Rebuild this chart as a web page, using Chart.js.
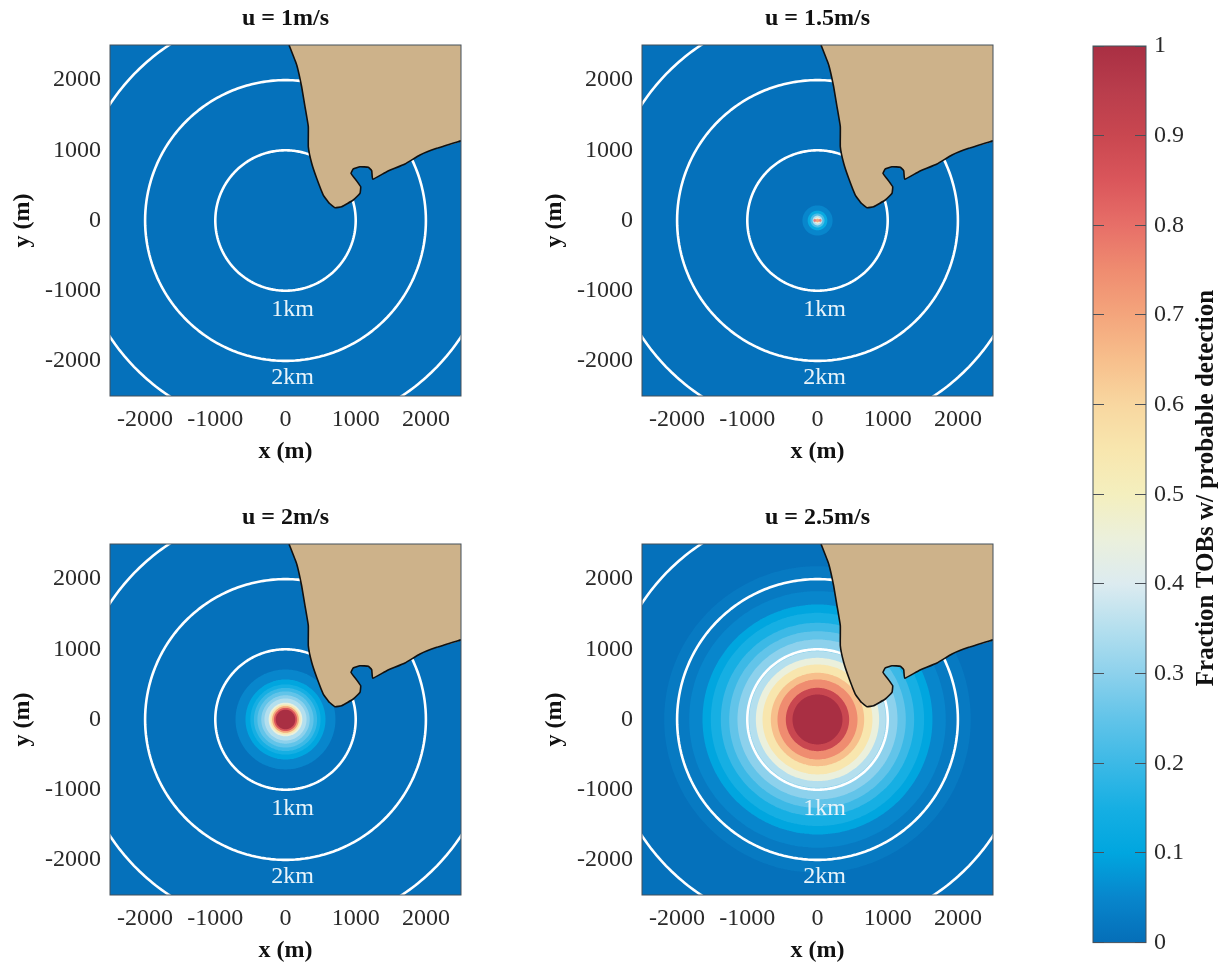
<!DOCTYPE html>
<html>
<head>
<meta charset="utf-8">
<style>
  html, body { margin: 0; padding: 0; background: #fff; }
  body { width: 1229px; height: 965px; position: relative; overflow: hidden; }
  .box { position: absolute; }
</style>
<script src="https://cdn.jsdelivr.net/npm/chart.js@4"></script>
</head>
<body>
<div class="box" style="left:0;top:0;width:480px;height:466px"><canvas id="p1"></canvas></div>
<div class="box" style="left:532px;top:0;width:480px;height:466px"><canvas id="p2"></canvas></div>
<div class="box" style="left:0;top:499px;width:480px;height:466px"><canvas id="p3"></canvas></div>
<div class="box" style="left:532px;top:499px;width:480px;height:466px"><canvas id="p4"></canvas></div>
<div class="box" style="left:1085px;top:0;width:144px;height:965px"><canvas id="bar"></canvas></div>
<script>
const TITLES = ['u = 1m/s', 'u = 1.5m/s', 'u = 2m/s', 'u = 2.5m/s'];
const AXIS_TICKS = [-2000, -1000, 0, 1000, 2000];
const RING_RADII = [1000, 2000, 3000];
const RING_LABELS = ['1km', '2km'];
const RING_LABEL_X = [100, 100];
const RING_LABEL_Y = [-1270, -2240];
const SEA_X = [-2500, 2500, 2500, -2500, -2500];
const SEA_Y = [-2500, -2500, 2500, 2500, -2500];

// coastline, metres
const COAST_X = [50, 160, 230, 278, 325, 325, 373, 444, 538, 624, 705, 800, 966, 1061, 1071, 1004, 933, 966, 1061, 1180, 1228, 1242, 1442, 1702, 1916, 2154, 2500];
const COAST_Y = [2500, 2215, 1905, 1620, 1336, 1051, 815, 601, 363, 245, 182, 197, 292, 387, 481, 577, 672, 734, 766, 758, 709, 587, 695, 805, 933, 1028, 1135];
const LAND_CORNER_X = [2500, 50];
const LAND_CORNER_Y = [2500, 2500];

// contour bands, inner to outer: radius in metres and level on the colour bar
const BAND_RADII = [
  [],
  [25, 45, 70, 100, 140, 215],
  [140, 165, 190, 215, 240, 300, 345, 400, 450, 500, 570, 712],
  [356, 451, 570, 665, 783, 878, 973, 1140, 1258, 1377, 1519, 1638, 1828, 2184]
];
const BAND_LEVELS = [
  [],
  [0.7, 0.45, 0.35, 0.22, 0.12, 0.05],
  [1, 0.85, 0.7, 0.55, 0.45, 0.35, 0.3, 0.25, 0.2, 0.15, 0.1, 0.05],
  [1, 0.9, 0.75, 0.65, 0.55, 0.45, 0.35, 0.3, 0.25, 0.2, 0.15, 0.1, 0.05, 0.025]
];
const P2_DOTS_X = [-38, 38];
const P2_DOTS_Y = [0, 0];

const BAR_TICKS = [0, 0.1, 0.2, 0.3, 0.4, 0.5, 0.6, 0.7, 0.8, 0.9, 1];
const BAR_VALUE = [1];
const BAR_TITLE = 'Fraction TOBs w/ probable detection';

// colour map, one entry every 0.05
const COLOR_STOPS = [
  [5, 110, 184], [8, 134, 204], [0, 166, 223], [22, 175, 227], [60, 185, 230], [98, 196, 233], [141, 209, 236],
  [180, 223, 238], [220, 235, 240], [235, 240, 220], [244, 239, 190], [248, 230, 174], [248, 215, 160],
  [247, 191, 140], [244, 165, 124], [239, 140, 112], [231, 111, 104], [218, 86, 91], [201, 71, 80], [185, 61, 76], [169, 47, 67]
];

const SEA = '#0571bb';
const LAND = '#cdb28a';
const SERIF = '"Liberation Serif", serif';

const colorAt = (v) => {
  const p = Math.min(v, 1) / 0.05;
  const i = Math.min(Math.floor(p), COLOR_STOPS.length - 2);
  const t = p - i;
  const c = COLOR_STOPS[i].map((a, k) => Math.round(a + (COLOR_STOPS[i + 1][k] - a) * t));
  return `rgb(${c[0]},${c[1]},${c[2]})`;
};

const barGradient = (context) => {
  const {ctx, chartArea} = context.chart;
  if (!chartArea) {
    return colorAt(0);
  }
  const g = ctx.createLinearGradient(0, chartArea.bottom, 0, chartArea.top);
  COLOR_STOPS.forEach((c, i) => {
    g.addColorStop(i / (COLOR_STOPS.length - 1), `rgb(${c[0]},${c[1]},${c[2]})`);
  });
  return g;
};

const circle = (r) => {
  const pts = [];
  for (let a = 0; a <= 360; a += 2) {
    pts.push({x: r * Math.cos(a * Math.PI / 180), y: r * Math.sin(a * Math.PI / 180)});
  }
  return pts;
};

const zip = (xs, ys) => xs.map((x, i) => ({x, y: ys[i]}));

const framePlugin = {
  id: 'frame',
  afterDatasetsDraw: (chart) => {
    const {ctx, chartArea: a} = chart;
    ctx.save();
    ctx.strokeStyle = '#44505a';
    ctx.lineWidth = 1;
    ctx.strokeRect(a.left, a.top, a.right - a.left, a.bottom - a.top);
    ctx.restore();
  }
};

const ringLabelPlugin = {
  id: 'ringLabels',
  afterDatasetsDraw: (chart) => {
    const {ctx, scales} = chart;
    ctx.save();
    ctx.fillStyle = '#e8f4fa';
    ctx.font = '24px ' + SERIF;
    ctx.textAlign = 'center';
    ctx.textBaseline = 'middle';
    RING_LABELS.forEach((t, i) => {
      ctx.fillText(t, scales.x.getPixelForValue(RING_LABEL_X[i]), scales.y.getPixelForValue(RING_LABEL_Y[i]));
    });
    ctx.restore();
  }
};

const barTitlePlugin = {
  id: 'barTitle',
  afterDraw: (chart) => {
    const {ctx} = chart;
    ctx.save();
    ctx.translate(122, 488);
    ctx.rotate(-Math.PI / 2);
    ctx.fillStyle = '#111';
    ctx.font = 'bold 25px ' + SERIF;
    ctx.textAlign = 'center';
    ctx.textBaseline = 'middle';
    ctx.fillText(BAR_TITLE, 0, 0);
    ctx.restore();
  }
};

const renderPanel = (id, index) => {
  const datasets = [];
  // tension must stay above 0, otherwise the fast line path flattens the circles
  const shape = (data, color, tension) => ({data, showLine: true, fill: 'shape', backgroundColor: color, borderWidth: 0, pointRadius: 0, tension, clip: 0});

  datasets.push({data: zip(COAST_X, COAST_Y), showLine: true, fill: false, borderColor: '#111', borderWidth: 1.6, pointRadius: 0, tension: 0.1, clip: 0});
  datasets.push(shape(zip(COAST_X.concat(LAND_CORNER_X), COAST_Y.concat(LAND_CORNER_Y)), LAND, 0.1));
  RING_RADII.forEach((r) => {
    datasets.push({data: circle(r), showLine: true, fill: false, borderColor: '#fff', borderWidth: 2.6, pointRadius: 0, tension: 0.01, clip: 0});
  });
  if (index === 1) {
    datasets.push({data: zip(P2_DOTS_X, P2_DOTS_Y), showLine: false, pointRadius: 1.4, pointBorderWidth: 0, pointBackgroundColor: '#e58080'});
  }
  BAND_RADII[index].forEach((r, i) => {
    datasets.push(shape(circle(r), colorAt(BAND_LEVELS[index][i]), 0.01));
  });
  datasets.push(shape(zip(SEA_X, SEA_Y), SEA, 0));

  new Chart(document.getElementById(id), {
    type: 'scatter',
    data: {datasets},
    plugins: [framePlugin, ringLabelPlugin],
    options: {
      responsive: true,
      maintainAspectRatio: false,
      animation: false,
      layout: {padding: {right: 19}},
      plugins: {
        legend: {display: false},
        tooltip: {enabled: false},
        filler: {drawTime: 'beforeDatasetDraw'},
        title: {
          display: true,
          text: TITLES[index],
          fullSize: false,
          color: '#111',
          font: {family: SERIF, size: 24, weight: 'bold', lineHeight: 1.2},
          padding: {top: 4, bottom: 12.2}
        }
      },
      scales: {
        x: {
          type: 'linear',
          min: -2500,
          max: 2500,
          afterBuildTicks: (s) => { s.ticks = AXIS_TICKS.map((value) => ({value})); },
          afterFit: (s) => { s.height = 70; },
          grid: {display: false},
          border: {display: false},
          ticks: {color: '#2a2a2a', maxRotation: 0, padding: 1, font: {family: SERIF, size: 24}, callback: (v) => String(v)},
          title: {display: true, text: 'x (m)', color: '#111', padding: 0, font: {family: SERIF, size: 24, weight: 'bold', lineHeight: 1.2}}
        },
        y: {
          type: 'linear',
          min: -2500,
          max: 2500,
          afterBuildTicks: (s) => { s.ticks = AXIS_TICKS.map((value) => ({value})); },
          afterFit: (s) => { s.width = 110; },
          grid: {display: false},
          border: {display: false},
          ticks: {color: '#2a2a2a', padding: 1, font: {family: SERIF, size: 24}, callback: (v) => String(v)},
          title: {display: true, text: 'y (m)', color: '#111', padding: {top: 8.6, bottom: 0}, font: {family: SERIF, size: 24, weight: 'bold', lineHeight: 1.2}}
        }
      }
    }
  });
};

const renderBar = () => {
  new Chart(document.getElementById('bar'), {
    type: 'bar',
    data: {
      labels: [''],
      datasets: [{
        data: BAR_VALUE,
        backgroundColor: barGradient,
        barPercentage: 1,
        categoryPercentage: 1
      }]
    },
    plugins: [framePlugin, barTitlePlugin],
    options: {
      responsive: true,
      maintainAspectRatio: false,
      animation: false,
      layout: {padding: {left: 8, top: 46, bottom: 19}},
      plugins: {legend: {display: false}, tooltip: {enabled: false}},
      scales: {
        x: {display: false},
        y: {
          position: 'right',
          min: 0,
          max: 1,
          afterBuildTicks: (s) => { s.ticks = BAR_TICKS.map((value) => ({value})); },
          afterFit: (s) => { s.width = 83; },
          grid: {z: 1, color: '#4a5058', lineWidth: 1, drawTicks: false},
          border: {display: false, dash: [11, 31, 11, 0]},
          ticks: {color: '#2a2a2a', padding: 8, font: {family: SERIF, size: 24}, callback: (v) => String(v)}
        }
      }
    }
  });
};

renderPanel('p1', 0);
renderPanel('p2', 1);
renderPanel('p3', 2);
renderPanel('p4', 3);
renderBar();
</script>
</body>
</html>
